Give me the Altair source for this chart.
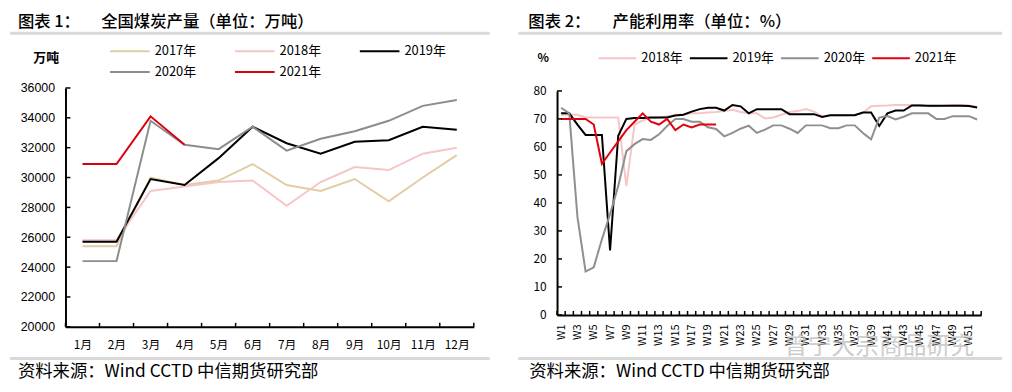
import altair as alt
import pandas as pd

CJK = "Noto Sans CJK SC"

# ---------------- Left chart: 全国煤炭产量（万吨） ----------------
months = ["1月", "2月", "3月", "4月", "5月", "6月", "7月", "8月", "9月", "10月", "11月", "12月"]
years_left = ["2017年", "2018年", "2019年", "2020年", "2021年"]
prod_2017 = [25400, 25400, 30000, 29500, 29800, 30900, 29500, 29100, 29900, 28400, 30000, 31500]
prod_2018 = [25800, 25800, 29100, 29400, 29700, 29800, 28100, 29700, 30700, 30500, 31600, 32000]
prod_2019 = [25700, 25700, 29900, 29500, 31300, 33400, 32300, 31600, 32400, 32500, 33400, 33200]
prod_2020 = [24400, 24400, 33800, 32200, 31900, 33400, 31800, 32600, 33100, 33800, 34800, 35200]
prod_2021 = [30900, 30900, 34100, 32200]
left_ticks = [20000, 22000, 24000, 26000, 28000, 30000, 32000, 34000, 36000]
left_colors = ["#e2cda3", "#f5c5c7", "#000000", "#8c8c8c", "#d9000f"]

# ---------------- Right chart: 产能利用率（%） ----------------
weeks = ["W%d" % i for i in range(1, 53)]
week_labels = ["W%d" % i for i in range(1, 53, 2)]
years_right = ["2018年", "2019年", "2020年", "2021年"]
util_2018 = [71.5, 71.5, 71.5, 70.5, 70.5, 70.5, 70.5, 70.5, 46.0, 68.0,
             69.5, 70.3, 70.5, 71.0, 71.5, 71.7, 72.0, 72.0, 72.3, 72.5,
             72.8, 73.3, 72.5, 72.0, 72.0, 70.2, 70.5, 71.5, 72.5, 72.8,
             73.5, 72.6, 71.0, 71.3, 71.3, 71.3, 71.5, 72.2, 74.5, 74.7,
             74.8, 75.0, 75.0, 75.0, 75.0, 74.5, 74.5, 74.7, 75.0, 75.0,
             74.8, 74.3]
util_2019 = [72.0, 72.0, 68.0, 64.3, 64.3, 64.3, 23.0, 64.0, 70.0, 70.3,
             70.3, 70.5, 70.5, 70.5, 71.2, 71.5, 72.6, 73.5, 74.0, 74.0,
             73.0, 75.0, 74.5, 72.0, 73.5, 73.5, 73.5, 73.5, 71.7, 71.7,
             71.7, 71.7, 70.7, 71.3, 71.3, 71.3, 71.3, 72.3, 72.3, 67.5,
             72.0, 73.0, 73.0, 74.8, 74.8, 74.7, 74.7, 74.7, 74.7, 74.7,
             74.6, 74.1]
util_2020 = [74.0, 72.0, 35.0, 15.5, 17.0, 27.0, 36.0, 46.0, 58.5, 61.0,
             62.8, 62.5, 64.5, 67.5, 70.0, 70.0, 69.0, 69.0, 67.0, 66.4,
             63.8, 65.0, 66.5, 67.6, 65.0, 66.2, 67.7, 67.7, 66.5, 65.0,
             67.7, 67.7, 67.7, 66.7, 66.7, 67.7, 67.7, 65.0, 62.7, 70.5,
             71.0, 69.8, 70.8, 72.0, 72.0, 72.0, 70.0, 70.0, 71.0, 71.0,
             71.0, 69.8]
util_2021 = [70.0, 70.0, 70.0, 70.0, 68.0, 54.0, 58.0, 62.0, 66.0, 69.0,
             72.0, 69.0, 68.0, 70.0, 66.0, 68.0, 67.0, 68.0, 68.0, 68.0]
right_ticks = [0, 10, 20, 30, 40, 50, 60, 70, 80]
right_colors = ["#f4c6c6", "#000000", "#8f8f8f", "#e3000f"]

# ---------------- tables ----------------
rows = []
for yr, vals in zip(years_left, [prod_2017, prod_2018, prod_2019, prod_2020, prod_2021]):
    for i, v in enumerate(vals):
        rows.append({"month": months[i], "year": yr, "value": v, "idx": i})
left_df = pd.DataFrame(rows)

rows = []
for yr, vals in zip(years_right, [util_2018, util_2019, util_2020, util_2021]):
    for i, v in enumerate(vals):
        rows.append({"week": weeks[i], "year": yr, "value": v, "idx": i})
right_df = pd.DataFrame(rows)

dummy = pd.DataFrame({"d": [0]})


def txt(text, x, y, size, align="left", weight="normal", font=CJK, color="black",
        baseline="middle", opacity=1.0):
    return alt.Chart(dummy).mark_text(
        text=text, align=align, baseline=baseline, fontSize=size, fontWeight=weight,
        font=font, color=color, opacity=opacity
    ).encode(x=alt.value(x), y=alt.value(y))


def hline(x1, x2, y, color="#d9d9d9", width=3, opacity=1.0):
    return alt.Chart(dummy).mark_rule(color=color, strokeWidth=width, opacity=opacity).encode(
        x=alt.value(x1), x2=alt.value(x2), y=alt.value(y))


OY = 87  # common top of both panels (page px)
TOP = 8  # page top (body margin)
TITLE_Y = 20.5
TITLE_FS = 16.5

# ---------------- left panel ----------------
WL, HL = 412, 241
stepL = WL / len(months)
xL = alt.X("month:N", scale=alt.Scale(type="point", padding=0.5, domain=months),
           axis=alt.Axis(title=None, labelAngle=0, ticks=False, grid=False,
                         domainColor="black", domainWidth=2, labelFont=CJK,
                         labelFontSize=12, labelColor="black", labelPadding=13))
yL = alt.Y("value:Q", scale=alt.Scale(domain=[20000, 36000], nice=False, zero=False),
           axis=alt.Axis(title=None, values=left_ticks, ticks=False, grid=False,
                         domainColor="black", domainWidth=2, labelFont="Liberation Sans",
                         labelFontSize=12.5, labelColor="black", labelPadding=11, format="d"))

left_lines = alt.Chart(left_df).mark_line(strokeWidth=2).encode(
    x=xL, y=yL,
    order=alt.Order("idx:Q"),
    color=alt.Color("year:N", scale=alt.Scale(domain=years_left, range=left_colors),
                    legend=alt.Legend(orient="none", legendX=44, legendY=-45,
                                      direction="horizontal", columns=3, title=None,
                                      symbolType="stroke", symbolSize=1600,
                                      symbolStrokeWidth=2, labelFont=CJK, labelFontSize=13,
                                      labelColor="black", labelOffset=4, columnPadding=38,
                                      rowPadding=5, clipHeight=16)),
)

left_xticks = alt.Chart(pd.DataFrame({"month": months})).mark_rule(
    color="black", strokeWidth=1.5, xOffset=-stepL / 2).encode(
    x=xL, y=alt.value(HL - 4), y2=alt.value(HL))
left_xtick_end = alt.Chart(dummy).mark_rule(color="black", strokeWidth=1.5).encode(
    x=alt.value(WL), y=alt.value(HL - 4), y2=alt.value(HL))
left_yticks = alt.Chart(pd.DataFrame({"value": left_ticks})).mark_rule(
    color="black", strokeWidth=1.5).encode(y=yL, x=alt.value(0), x2=alt.value(5))

oxL = 64
left = alt.layer(
    hline(8 - oxL, 492 - oxL, TOP - OY, color="white", width=0.01, opacity=0),
    hline(8 - oxL, 492 - oxL, 31.7 - OY),
    hline(8 - oxL, 492 - oxL, 360 - OY),
    txt("图表 1：", 16 - oxL, TITLE_Y - OY, TITLE_FS, weight=500),
    txt("全国煤炭产量（单位：万吨）", 100 - oxL, TITLE_Y - OY, TITLE_FS, weight=500),
    txt("资料来源：Wind CCTD 中信期货研究部", 16 - oxL, 374 - OY, 17.5),
    txt("万吨", 44.5 - oxL, 57 - OY, 13, align="center", weight="bold"),
    left_lines, left_xticks, left_xtick_end, left_yticks,
).properties(width=WL, height=HL)

# ---------------- right panel ----------------
WR, HR = 428, 316 - OY
TOPR = 90 - OY
stepR = WR / len(weeks)
xR = alt.X("week:N", scale=alt.Scale(type="point", padding=0.5, domain=weeks),
           axis=alt.Axis(title=None, values=week_labels, labelAngle=-90, ticks=False,
                         grid=False, domainColor="black", domainWidth=2, labelFont=CJK,
                         labelFontSize=11, labelColor="black", labelPadding=9))
yR = alt.Y("value:Q", scale=alt.Scale(domain=[0, 80], nice=False, zero=True, range=[HR, TOPR]),
           axis=alt.Axis(title=None, values=right_ticks, ticks=False, grid=False,
                         domainColor="black", domainWidth=2, labelFont=CJK,
                         labelFontSize=12, labelColor="black", labelPadding=11, format="d"))

right_lines = alt.Chart(right_df).mark_line(strokeWidth=2).encode(
    x=xR, y=yR,
    order=alt.Order("idx:Q"),
    color=alt.Color("year:N", scale=alt.Scale(domain=years_right, range=right_colors),
                    legend=alt.Legend(orient="none", legendX=41, legendY=49 - OY,
                                      direction="horizontal", title=None,
                                      symbolType="stroke", symbolSize=1444,
                                      symbolStrokeWidth=2, labelFont=CJK, labelFontSize=13,
                                      labelColor="black", labelOffset=4, columnPadding=6,
                                      clipHeight=16)),
)

right_xticks = alt.Chart(pd.DataFrame({"week": weeks})).mark_rule(
    color="black", strokeWidth=1.5, xOffset=-stepR / 2).encode(
    x=xR, y=alt.value(HR - 4), y2=alt.value(HR))
right_xtick_end = alt.Chart(dummy).mark_rule(color="black", strokeWidth=1.5).encode(
    x=alt.value(WR), y=alt.value(HR - 4), y2=alt.value(HR))
right_yticks = alt.Chart(pd.DataFrame({"value": right_ticks})).mark_rule(
    color="black", strokeWidth=1.5).encode(y=yR, x=alt.value(0), x2=alt.value(5))

oxR = 556
right = alt.layer(
    hline(517 - oxR, 1005 - oxR, TOP - OY, color="white", width=0.01, opacity=0),
    hline(517 - oxR, 1005 - oxR, 31.7 - OY),
    hline(517 - oxR, 1005 - oxR, 360 - OY),
    txt("图表 2：", 527 - oxR, TITLE_Y - OY, TITLE_FS, weight=500),
    txt("产能利用率（单位：%）", 612 - oxR, TITLE_Y - OY, TITLE_FS, weight=500),
    txt("资料来源：Wind CCTD 中信期货研究部", 528 - oxR, 374 - OY, 17.5),
    txt("%", 542 - oxR, 57 - OY, 12, align="center", weight="bold"),
    right_lines, right_xticks, right_xtick_end, right_yticks,
    txt("曾宁大宗商品研究", 785 - oxR, 348 - OY, 24, color="#b8b8b8", opacity=0.7),
).properties(width=WR, height=HR)

chart = alt.hconcat(left, right, spacing=25).resolve_scale(
    x="independent", y="independent", color="independent"
).resolve_legend(color="independent").properties(padding=0).configure_view(stroke=None)

chart.save("out.html", embed_options={"renderer": "svg", "actions": False})
